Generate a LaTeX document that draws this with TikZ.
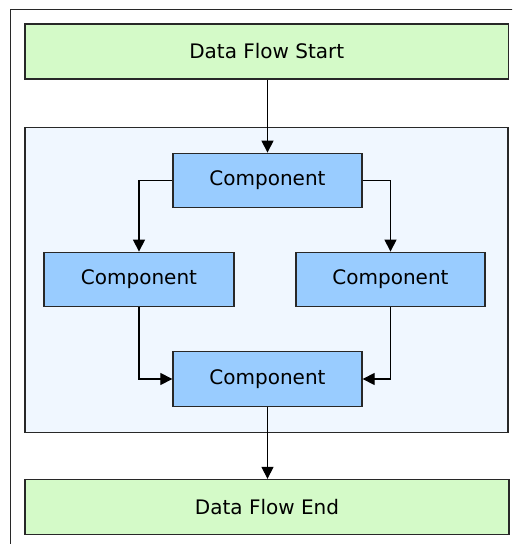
\documentclass[tikz,border=0pt]{standalone}
\usepackage{fontspec}
\setmainfont{DejaVu Sans}
\usetikzlibrary{arrows.meta}
\definecolor{startgreen}{RGB}{212,250,200}
\definecolor{compblue}{RGB}{153,204,255}
\definecolor{panelblue}{RGB}{240,247,255}
\definecolor{edgegray}{RGB}{40,40,40}
\tikzset{
  greenbox/.style={draw=edgegray, line width=1.3pt, fill=startgreen, inner sep=0pt, font=\fontsize{20}{24}\selectfont},
  compbox/.style={draw=edgegray, line width=1.3pt, fill=compblue, inner sep=0pt, minimum height=54.5pt, font=\fontsize{20}{24}\selectfont},
  panelbox/.style={draw=edgegray, line width=1.1pt, fill=panelblue, inner sep=0pt},
  flow/.style={draw=black, line width=1.2pt, -{Triangle[length=12pt,width=12pt]}}
}
\begin{document}
\begin{tikzpicture}[x=1pt,y=-1pt]
\useasboundingbox (0,0) rectangle (512,544);
\clip (0,0) rectangle (512,544);
\draw[draw=edgegray, line width=1pt] (10.5,9.5) rectangle (540,570);
\node[panelbox, minimum width=483pt, minimum height=305pt] (panel) at (266.5,280) {};
\node[greenbox, minimum width=483.5pt, minimum height=55pt] (start) at (266.75,51.5) {Data Flow Start};
\node[greenbox, minimum width=484pt, minimum height=55pt] (end) at (267,507) {Data Flow End};
\node[compbox, minimum width=189pt] (c1) at (267.5,180.5) {Component};
\node[compbox, minimum width=190pt] (c2) at (139,279.5) {Component};
\node[compbox, minimum width=189pt] (c3) at (390.5,279.5) {Component};
\node[compbox, minimum width=189pt] (c4) at (267.5,379) {Component};
\draw[flow] (c1.north |- start.south) -- (c1.north);
\draw[flow] (c1.west) -| (c2.north);
\draw[flow] (c1.east) -| (c3.north);
\draw[flow] (c2.south) |- (c4.west);
\draw[flow] (c3.south) |- (c4.east);
\draw[flow] (c4.south) -- (c4.south |- end.north);
\end{tikzpicture}
\end{document}
